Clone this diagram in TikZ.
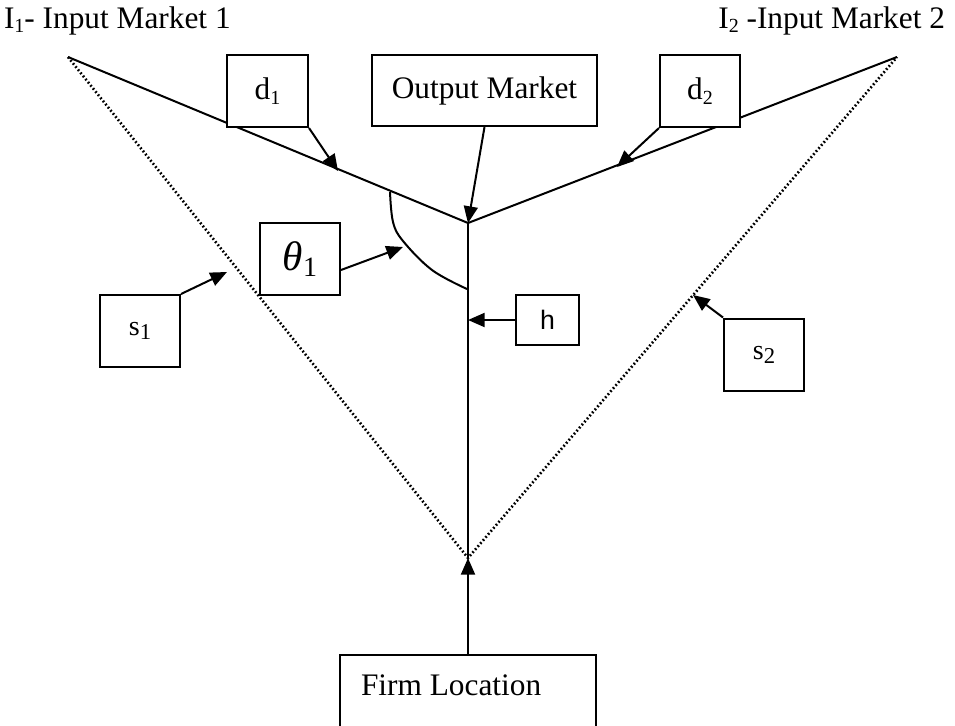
\documentclass[tikz,border=0pt]{standalone}
\usepackage{fontspec}
\setmainfont{Liberation Serif}
\newfontfamily\hfont{Liberation Sans}
\usetikzlibrary{arrows.meta}
\newcommand{\subn}[2][15]{\raisebox{-0.3ex}{\fontsize{#1}{#1}\selectfont #2}}

\begin{document}
\begin{tikzpicture}[x=0.75pt, y=-0.75pt, line width=1.5pt,
    every node/.style={font=\fontsize{23.5}{28}\selectfont},
    box/.style={draw, fill=white, inner sep=0pt, minimum width=60pt, minimum height=54pt},
    arr/.style={-{Triangle[length=12.5pt, width=10.5pt]}},
    dots/.style={line width=2pt, dash pattern=on 1.3pt off 1.7pt}]
      \useasboundingbox (0,0) rectangle (955,725);

      \coordinate (L) at (68,57);
      \coordinate (R) at (897,57);
      \coordinate (O) at (468,223);
      \coordinate (B) at (468,558);

      \node (in1) [anchor=base west, inner sep=0pt] at (3,28) {I\subn{1}- Input Market 1};
      \node (in2) [anchor=base east, inner sep=0pt] at (946,28) {I\subn{2} -Input Market 2};

      \draw (L) -- (O) -- (R);
      \draw (O) -- (B);
      \draw[dots] (L) -- (B) -- (R);
      \draw plot[smooth, tension=0.6] coordinates {(390,192) (393,222) (403,241) (432,270) (467,289)};

      \node (d1) [box, minimum width=60.75pt] at (267.5,91) {d\subn{1}};
      \node (out) [box, minimum width=168.75pt, minimum height=53.25pt] at (484.5,90.5) {Output Market};
      \node (d2) [box] at (700,91) {d\subn{2}};
      \node (th) [box, font=\fontsize{31}{34}\selectfont] at (300,259) {\itshape θ\upshape\subn[21]{1}};
      \node (s1) [box, font=\fontsize{21}{24}\selectfont] at (140,331) {s\subn[17]{1}};
      \node (s2) [box, font=\fontsize{21}{24}\selectfont] at (764,354.5) {s\subn[17]{2}};
      \node (h) [box, minimum width=47.25pt, minimum height=37.5pt, font=\hfont\fontsize{20}{24}\selectfont] at (547.5,320) {h};
      \node (firm) [box, minimum width=192pt, minimum height=78.75pt] at (468,707.5) {};
      \node (firmtext) [anchor=base west, inner sep=0pt] at (360,695) {Firm Location};

      \coordinate (d1tip) at (338,171);
      \coordinate (d2tip) at (617,167);
      \coordinate (thtip) at (403,247);
      \coordinate (s1tip) at (227,272);
      \coordinate (s2tip) at (693,295);

      \draw[arr] (d1.south east) -- (d1tip);
      \draw[arr] (out.south) -- (O);
      \draw[arr] (d2.south west) -- (d2tip);
      \draw[arr] (th.-15) -- (thtip);
      \draw[arr] (s1.north east) -- (s1tip);
      \draw[arr] (s2.north west) -- (s2tip);
      \draw[arr] (h.west) -- (h.west -| O);
      \draw[arr] (firm.north) -- (B);
\end{tikzpicture}
\end{document}
